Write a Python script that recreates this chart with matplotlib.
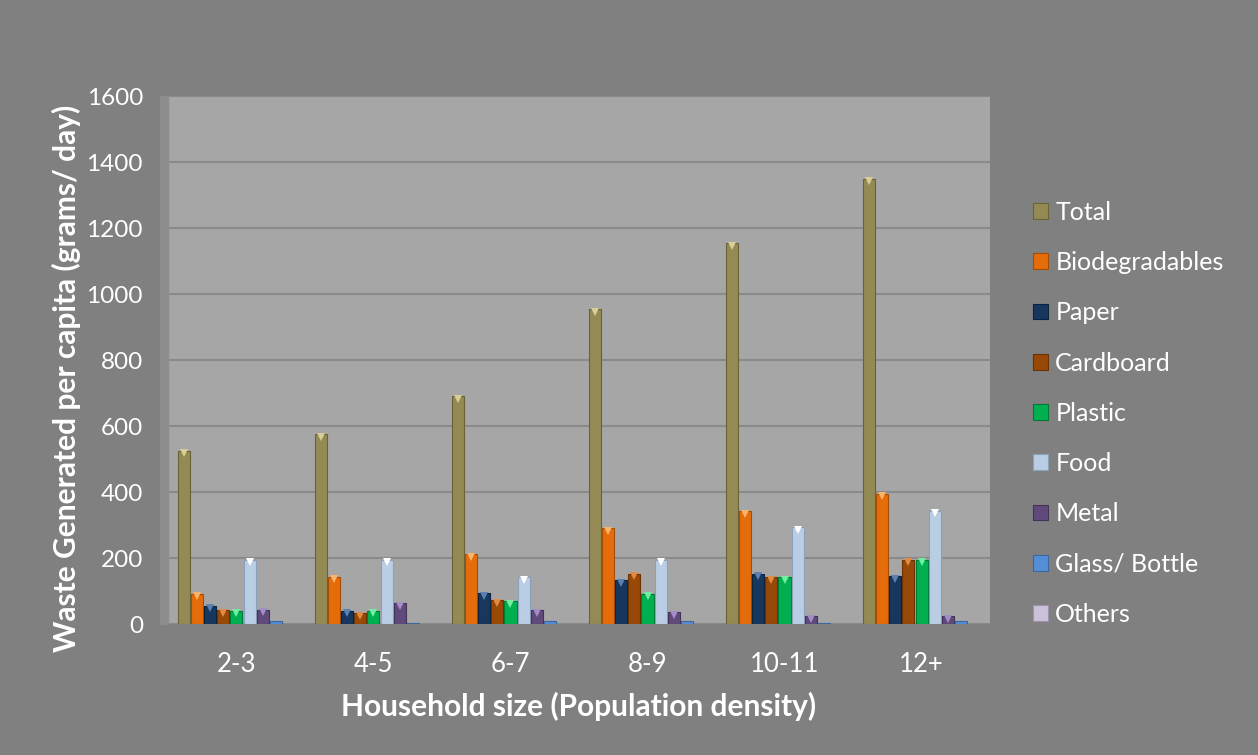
import matplotlib
matplotlib.use('Agg')

import matplotlib.pyplot as plt
import numpy as np
from matplotlib.patches import Rectangle

plt.rcParams['font.family'] = ['Lato', 'DejaVu Sans']

groups = ["2-3", "4-5", "6-7", "8-9", "10-11", "12+"]
series = ["Total", "Biodegradables", "Paper", "Cardboard", "Plastic",
          "Food", "Metal", "Glass/ Bottle", "Others"]

total = [525, 575, 690, 955, 1155, 1350]
biodegradables = [92, 143, 212, 290, 342, 395]
paper = [55, 40, 94, 132, 153, 145]
cardboard = [42, 33, 73, 152, 142, 195]
plastic = [40, 40, 70, 92, 142, 195]
food = [195, 195, 142, 195, 293, 343]
metal = [43, 64, 42, 35, 24, 24]
glass = [10, 2, 10, 10, 2, 9]
others = [0, 0, 0, 0, 0, 0]

values = [total, biodegradables, paper, cardboard, plastic, food, metal, glass, others]

colors = ["#948a54", "#e46c0a", "#17375e", "#984807", "#00b050",
          "#b9cde5", "#604a7b", "#558ed5", "#ccc1da"]
tops = ["#d8cf98", "#fbb36a", "#5a7fb0", "#e08a45", "#6ff0a0",
        "#ffffff", "#a48cc4", "#9ec4f2", "#f2ecf8"]
edges = ["#6b6338", "#a64d05", "#0c223d", "#6b3203", "#007a37",
         "#8aa0bb", "#423254", "#3a67a0", "#9d92ab"]

fig = plt.figure(figsize=(12.58, 7.55), dpi=100, facecolor="#808080")
ax = fig.add_axes([0.1335, 0.1735, 0.6535, 0.6993])
ax.set_facecolor("#a6a6a6")

# darker side wall on the left of the plot area
fig.patches.append(Rectangle((160 / 1258, 0.1735), 8 / 1258, 0.6993,
                             transform=fig.transFigure, color="#8c8c8c", zorder=0))

x = np.arange(len(groups))
step = 0.0957
width = 0.088
for i, (name, vals) in enumerate(zip(series, values)):
    pos = x + (i - 4) * step
    vals = np.array(vals)
    ax.bar(pos, vals, width=width, color=colors[i], edgecolor=edges[i],
           linewidth=0.8, label=name, zorder=3)
    # small bevel triangle on top of each bar tall enough to show it
    tall = vals > 15
    ax.plot(pos[tall], vals[tall] - 8, linestyle="none", marker="v",
            markersize=6, color=tops[i], markeredgewidth=0, zorder=4)

ax.set_xlim(-0.5, len(groups) - 0.5)
ax.set_ylim(0, 1600)
ax.set_yticks(np.arange(0, 1601, 200))
ax.set_xticks(x)
ax.set_xticklabels(groups)
ax.yaxis.grid(True, color="#8a8a8a", linewidth=1.5, zorder=0)
ax.set_axisbelow(True)
for s in ax.spines.values():
    s.set_visible(False)
ax.tick_params(axis="both", length=0, colors="white")
ax.tick_params(axis="y", pad=18, labelsize=17.5)
ax.tick_params(axis="x", pad=20, labelsize=18.5)

ax.set_ylabel("Waste Generated per capita (grams/ day)", color="white",
              fontsize=21.5, fontweight="bold")
ax.yaxis.set_label_coords(-0.106, 0.466)
ax.set_xlabel("Household size (Population density)", color="white",
              fontsize=21.5, fontweight="bold")
ax.xaxis.set_label_coords(0.5, -0.128)

leg = ax.legend(loc="center left", bbox_to_anchor=(1.052, 0.399), frameon=False,
                fontsize=18, labelcolor="white", handlelength=0.6,
                handleheight=0.6, handletextpad=0.3, labelspacing=1.09,
                borderpad=0, borderaxespad=0)

plt.savefig("out.png", dpi=100, facecolor=fig.get_facecolor())
